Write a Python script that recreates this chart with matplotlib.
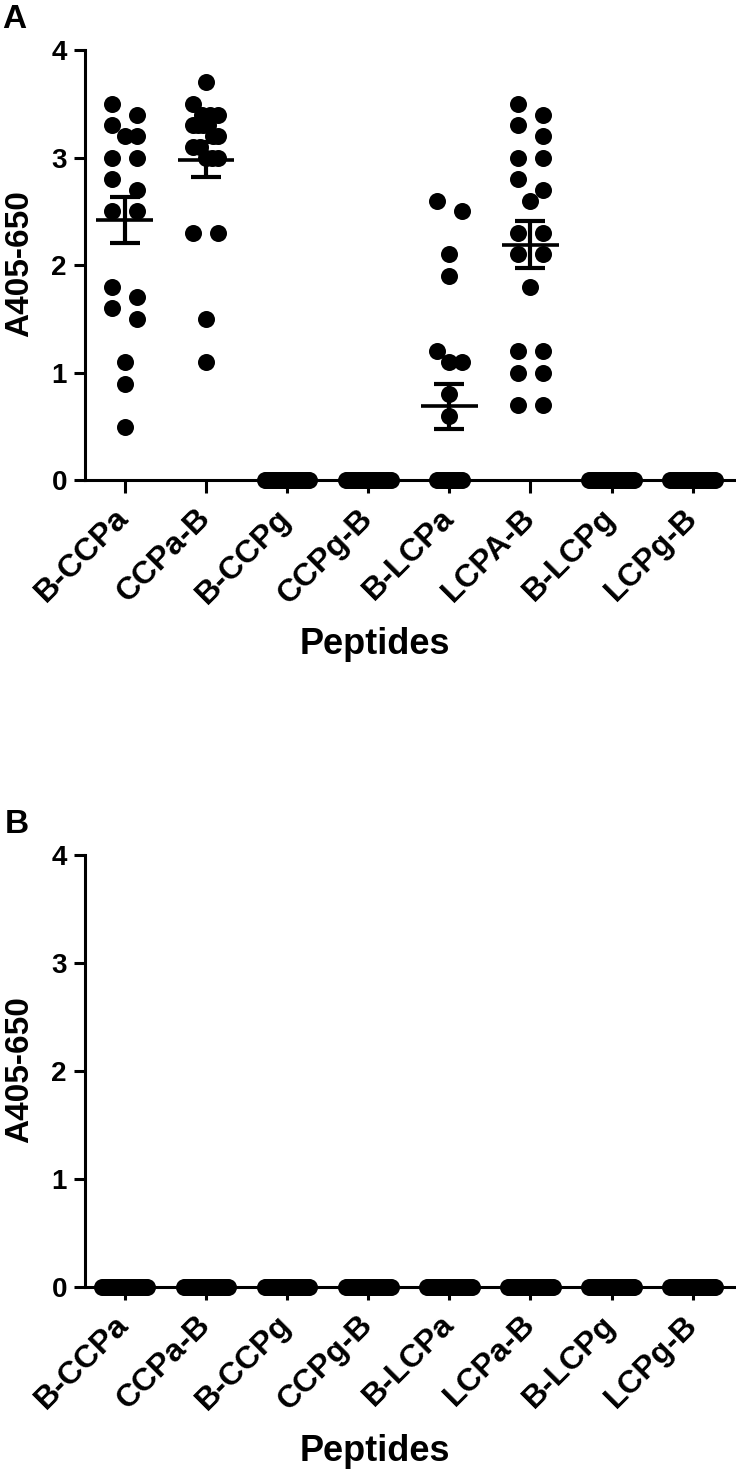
import numpy as np
import matplotlib
matplotlib.use("Agg")
import matplotlib.pyplot as plt

plt.rcParams["font.family"] = ["Liberation Sans", "DejaVu Sans"]
plt.rcParams["font.weight"] = "bold"

# tick labels for the two panels
peptides_a = ["B-CCPa", "CCPa-B", "B-CCPg", "CCPg-B", "B-LCPa", "LCPA-B", "B-LCPg", "LCPg-B"]
peptides_b = ["B-CCPa", "CCPa-B", "B-CCPg", "CCPg-B", "B-LCPa", "LCPa-B", "B-LCPg", "LCPg-B"]

# panel A, one list per peptide
b_ccpa = [3.5, 3.4, 3.3, 3.2, 3.2, 3.0, 3.0, 2.8, 2.7, 2.5, 2.5,
          1.8, 1.7, 1.6, 1.5, 1.1, 0.9, 0.5]
ccpa_b = [3.7, 3.5, 3.4, 3.4, 3.4, 3.3, 3.3, 3.3, 3.3, 3.2, 3.2, 3.1, 3.1,
          3.0, 3.0, 3.0, 2.3, 2.3, 1.5, 1.1]
b_lcpa = [2.6, 2.5, 2.1, 1.9, 1.2, 1.1, 1.1, 0.8, 0.6] + [0.0] * 11
lcpa_b = [3.5, 3.4, 3.3, 3.2, 3.0, 3.0, 2.8, 2.7, 2.6, 2.3, 2.3, 2.1, 2.1,
          1.8, 1.2, 1.2, 1.0, 1.0, 0.7, 0.7]
zeros = [0.0] * 20

# mean and SEM
mean_a = [2.42, 2.98, 0.0, 0.0, 0.69, 2.19, 0.0, 0.0]
sem_a = [0.21, 0.16, 0.0, 0.0, 0.21, 0.22, 0.0, 0.0]
mean_b = [0.0] * 8
sem_b = [0.0] * 8

groups_a = [b_ccpa, ccpa_b, zeros, zeros, b_lcpa, lcpa_b, zeros, zeros]
groups_b = [zeros] * 8


def swarm(vals, bin_h=0.12):
    # crude prism-like layout: nearby values share a row, rows are centred
    vals = np.asarray(vals, dtype=float)
    order = np.argsort(-vals, kind="stable")
    offs = np.zeros(len(vals))
    rows = []
    for i in order:
        if rows and vals[rows[-1][0]] - vals[i] <= bin_h:
            rows[-1].append(i)
        else:
            rows.append([i])
    for row in rows:
        n = len(row)
        if n == 1:
            continue
        step = max(0.029, 0.31 / (n - 1))
        offs[row] = (np.arange(n) - (n - 1) / 2) * step
    return offs


def panel(ax, groups, means, sems, labels):
    for i, vals in enumerate(groups):
        x = i + swarm(vals)
        ax.scatter(x, vals, s=150, color="black", linewidths=0, zorder=3, clip_on=False)
        if sems[i] > 0:
            ax.hlines(means[i], i - 0.35, i + 0.35, color="black", lw=2.6, zorder=4)
            ax.errorbar(i, means[i], yerr=sems[i], fmt="none", ecolor="black",
                        elinewidth=3, capsize=11, capthick=3, zorder=4)
    ax.set_xlim(-0.49, 7.52)
    ax.set_ylim(0, 4)
    ax.set_yticks([0, 1, 2, 3, 4])
    ax.set_xticks(range(8))
    ax.set_xticklabels(labels, rotation=45, ha="right", va="center", rotation_mode="anchor")
    for s in ["top", "right"]:
        ax.spines[s].set_visible(False)
    for s in ["left", "bottom"]:
        ax.spines[s].set_linewidth(2.2)
    ax.tick_params(axis="y", length=8, width=2.2, labelsize=20, pad=5)
    ax.tick_params(axis="x", length=9, width=2.2, labelsize=23, pad=15)
    ax.set_xlabel("Peptides", fontsize=26, fontweight="bold")
    ax.xaxis.set_label_coords(0.446, -0.34)
    ax.set_ylabel("A405-650", fontsize=24, fontweight="bold")
    ax.yaxis.set_label_coords(-0.077, 0.503)


fig = plt.figure(figsize=(7.36, 14.69), dpi=100)
ax_a = fig.add_axes([0.1155, 0.673, 0.883, 0.293])
ax_b = fig.add_axes([0.1155, 0.124, 0.883, 0.294])

panel(ax_a, groups_a, mean_a, sem_a, peptides_a)
panel(ax_b, groups_b, mean_b, sem_b, peptides_b)

fig.text(0.003, 0.997, "A", fontsize=24, fontweight="bold", va="top", ha="left")
fig.text(0.006, 0.449, "B", fontsize=24, fontweight="bold", va="top", ha="left")

fig.savefig("out.png", dpi=100)
